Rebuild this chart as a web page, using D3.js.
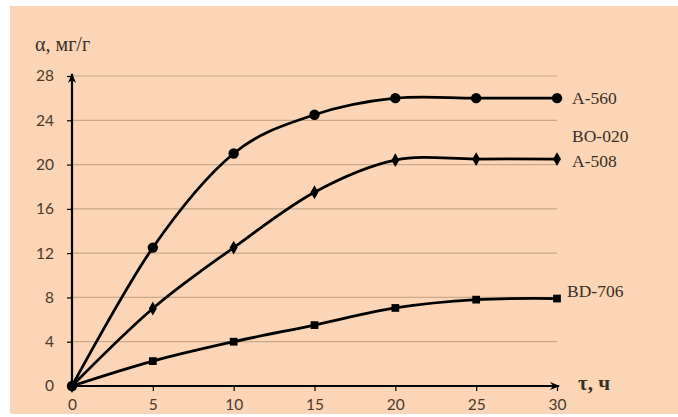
<!DOCTYPE html>
<html>
<head>
<meta charset="utf-8">
<script src="https://cdn.jsdelivr.net/npm/d3@7"></script>
<style>
  html, body { margin: 0; padding: 0; background: #ffffff; }
  svg { display: block; }
</style>
</head>
<body>
<svg id="chart" width="678" height="417"></svg>
<script>
// Sorption time, h
const hours = [0, 5, 10, 15, 20, 25, 30];
// Sorption capacity, mg/g, per resin
const a560 = [0, 12.5, 21, 24.5, 26, 26, 26];
const a508 = [0, 7, 12.5, 17.5, 20.4, 20.5, 20.5];
const bd706 = [0, 2.25, 4, 5.5, 7.05, 7.8, 7.9];
const yTicks = [0, 4, 8, 12, 16, 20, 24, 28];
const xTicks = [0, 5, 10, 15, 20, 25, 30];

const svg = d3.select("#chart");

// panel background
svg.append("rect").attr("x", 10).attr("y", 6).attr("width", 668).attr("height", 408)
  .attr("fill", "#fbd5b5");

const x = d3.scaleLinear().domain([0, 30]).range([72, 557]);
const y = d3.scaleLinear().domain([0, 28]).range([386, 76]);

// horizontal grid
svg.append("g").selectAll("line").data(yTicks.filter(d => d > 0)).join("line")
  .attr("x1", x(0)).attr("x2", x(30))
  .attr("y1", d => y(d)).attr("y2", d => y(d))
  .attr("stroke", "#c9a98a").attr("stroke-width", 1.2);

const defs = svg.append("defs");
defs.append("marker").attr("id", "arrow").attr("viewBox", "0 0 10 10")
  .attr("refX", 9).attr("refY", 5).attr("markerWidth", 10).attr("markerHeight", 10)
  .attr("markerUnits", "userSpaceOnUse").attr("orient", "auto")
  .append("path").attr("d", "M0,1 L10,5 L0,9 L3,5 Z").attr("fill", "#000");

const tickFont = "Lato, 'Open Sans', sans-serif";
const serif = "'Liberation Serif', 'DejaVu Serif', serif";

// axes
const yAxis = d3.axisLeft(y).tickValues(yTicks).tickSize(5).tickFormat(d3.format("d"));
const gy = svg.append("g").attr("transform", `translate(${x(0)},0)`).call(yAxis);
gy.select(".domain").remove();
gy.selectAll(".tick line").attr("stroke", "#000").attr("stroke-width", 1.2);
gy.selectAll(".tick text").attr("x", -18)
  .attr("font-family", tickFont).attr("font-size", 15.5).attr("fill", "#4a3a2e");

const xAxis = d3.axisBottom(x).tickValues(xTicks).tickSize(5).tickFormat(d3.format("d"));
const gx = svg.append("g").attr("transform", `translate(0,${y(0)})`).call(xAxis);
gx.select(".domain").remove();
gx.selectAll(".tick line").attr("stroke", "#000").attr("stroke-width", 1.2);
gx.selectAll(".tick text").attr("y", 13)
  .attr("font-family", tickFont).attr("font-size", 15.5).attr("fill", "#4a3a2e");

svg.append("line").attr("x1", x(0)).attr("x2", x(0)).attr("y1", y(0)).attr("y2", y(28) - 2)
  .attr("stroke", "#000").attr("stroke-width", 2.2).attr("marker-end", "url(#arrow)");
svg.append("line").attr("x1", x(0)).attr("x2", x(30) + 2).attr("y1", y(0)).attr("y2", y(0))
  .attr("stroke", "#000").attr("stroke-width", 2.2).attr("marker-end", "url(#arrow)");

// axis titles
svg.append("text").attr("x", 35).attr("y", 51).text("α, мг/г")
  .attr("font-family", serif).attr("font-size", 20).attr("fill", "#3a2e26");
svg.append("text").attr("x", 578).attr("y", 390).text("τ, ч")
  .attr("font-family", serif).attr("font-size", 21).attr("font-weight", "bold").attr("fill", "#3a2e26");

// curves
const line = d3.line().x((d, i) => x(hours[i])).y(d => y(d)).curve(d3.curveCatmullRom.alpha(0));
const series = [
  { name: "A-560", values: a560, shape: d3.symbolCircle, size: 85 },
  { name: "A-508", values: a508, shape: d3.symbolDiamond, size: 55 },
  { name: "BD-706", values: bd706, shape: d3.symbolSquare, size: 60 }
];
series.forEach(s => {
  svg.append("path").datum(s.values).attr("d", line)
    .attr("fill", "none").attr("stroke", "#000").attr("stroke-width", 2.8);
  svg.append("g").selectAll("path").data(s.values).join("path")
    .attr("transform", (d, i) => `translate(${x(hours[i])},${y(d)})`)
    .attr("d", d3.symbol().type(s.shape).size(s.size)).attr("fill", "#000");
});

// series labels
const labels = [
  { text: "A-560", v: a560[6], dx: 15, dy: 6 },
  { text: "BO-020", v: a508[6], dx: 15, dy: -17 },
  { text: "A-508", v: a508[6], dx: 15, dy: 8 },
  { text: "BD-706", v: bd706[6], dx: 10, dy: -2 }
];
svg.append("g").selectAll("text").data(labels).join("text")
  .attr("x", d => x(30) + d.dx).attr("y", d => y(d.v) + d.dy)
  .text(d => d.text)
  .attr("font-family", serif).attr("font-size", 17.5).attr("fill", "#3a2e26");
</script>
</body>
</html>
